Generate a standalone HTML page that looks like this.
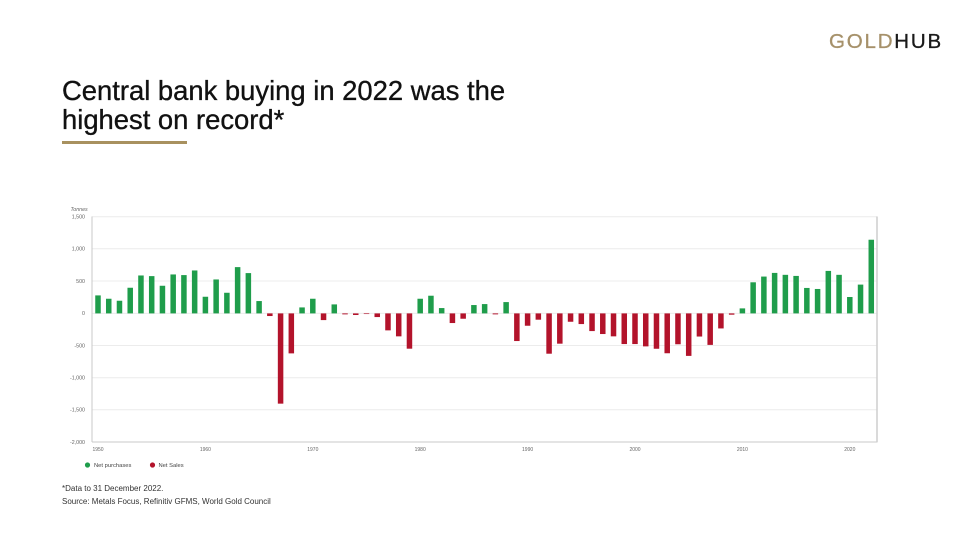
<!DOCTYPE html>
<html><head><meta charset="utf-8">
<style>
html,body{margin:0;padding:0;background:#fff;}
body{width:975px;height:537px;position:relative;overflow:hidden;font-family:"Liberation Sans",Arial,sans-serif;}
.logo{position:absolute;left:829px;top:30px;font-size:20.5px;letter-spacing:1.8px;line-height:24px;-webkit-text-stroke:0.3px currentColor;}
.logo .g{color:#a6916a;}
.logo .h{color:#1a1a1a;}
.title{position:absolute;left:62px;top:76px;font-size:27.4px;line-height:29px;color:#111;-webkit-text-stroke:0.35px #111;white-space:nowrap;}
.rule{position:absolute;left:62px;top:141px;width:125px;height:3px;background:#a8915f;}
.foot{position:absolute;left:62px;font-size:8px;color:#333;white-space:nowrap;}
</style></head>
<body>
<div class="logo"><span class="g">GOLD</span><span class="h">HUB</span></div>
<div class="title">Central bank buying in 2022 was the<br>highest on record*</div>
<div class="rule"></div>

<svg width="975" height="537" style="position:absolute;left:0;top:0" xmlns="http://www.w3.org/2000/svg">
  <g stroke="#ececec" stroke-width="1">
    <line x1="92" y1="216.7" x2="877" y2="216.7"/>
    <line x1="92" y1="248.8" x2="877" y2="248.8"/>
    <line x1="92" y1="281" x2="877" y2="281"/>
    <line x1="92" y1="313.4" x2="877" y2="313.4"/>
    <line x1="92" y1="345.5" x2="877" y2="345.5"/>
    <line x1="92" y1="377.7" x2="877" y2="377.7"/>
    <line x1="92" y1="409.8" x2="877" y2="409.8"/>
  </g>
  <line x1="92" y1="216.5" x2="92" y2="442" stroke="#c8c8c8" stroke-width="1"/>
  <line x1="92" y1="442" x2="877.5" y2="442" stroke="#c8c8c8" stroke-width="1"/>
  <line x1="877" y1="216.5" x2="877" y2="442" stroke="#d0d0d0" stroke-width="1.6"/>

  <g font-family="Liberation Sans, Arial, sans-serif" font-size="5.3" fill="#666" text-anchor="end">
    <text x="85" y="218.5">1,500</text>
    <text x="85" y="250.6">1,000</text>
    <text x="85" y="282.8">500</text>
    <text x="85" y="315.2">0</text>
    <text x="85" y="347.3">-500</text>
    <text x="85" y="379.5">-1,000</text>
    <text x="85" y="411.6">-1,500</text>
    <text x="85" y="443.8">-2,000</text>
  </g>
  <text x="70.5" y="211" font-family="Liberation Sans, Arial, sans-serif" font-size="5.3" font-style="italic" fill="#666">Tonnes</text>

  <g font-family="Liberation Sans, Arial, sans-serif" font-size="5" fill="#666" text-anchor="middle">
    <text x="98" y="451">1950</text>
    <text x="205.4" y="451">1960</text>
    <text x="312.8" y="451">1970</text>
    <text x="420.2" y="451">1980</text>
    <text x="527.6" y="451">1990</text>
    <text x="635" y="451">2000</text>
    <text x="742.4" y="451">2010</text>
    <text x="849.8" y="451">2020</text>
  </g>

  <g transform="translate(95.25,313.4) scale(1,-0.06428)">
    <g fill="#1f9d4b">
      <rect x="0" y="0" width="5.5" height="280"/>
      <rect x="10.74" y="0" width="5.5" height="228"/>
      <rect x="21.48" y="0" width="5.5" height="197"/>
      <rect x="32.22" y="0" width="5.5" height="399"/>
      <rect x="42.96" y="0" width="5.5" height="590"/>
      <rect x="53.70" y="0" width="5.5" height="580"/>
      <rect x="64.44" y="0" width="5.5" height="430"/>
      <rect x="75.18" y="0" width="5.5" height="606"/>
      <rect x="85.92" y="0" width="5.5" height="596"/>
      <rect x="96.66" y="0" width="5.5" height="668"/>
      <rect x="107.40" y="0" width="5.5" height="259"/>
      <rect x="118.14" y="0" width="5.5" height="528"/>
      <rect x="128.88" y="0" width="5.5" height="321"/>
      <rect x="139.62" y="0" width="5.5" height="720"/>
      <rect x="150.36" y="0" width="5.5" height="627"/>
      <rect x="161.10" y="0" width="5.5" height="192"/>
      <rect x="204.06" y="0" width="5.5" height="93"/>
      <rect x="214.80" y="0" width="5.5" height="228"/>
      <rect x="236.28" y="0" width="5.5" height="140"/>
      <rect x="322.20" y="0" width="5.5" height="228"/>
      <rect x="332.94" y="0" width="5.5" height="275"/>
      <rect x="343.68" y="0" width="5.5" height="83"/>
      <rect x="375.90" y="0" width="5.5" height="130"/>
      <rect x="386.64" y="0" width="5.5" height="145"/>
      <rect x="408.12" y="0" width="5.5" height="176"/>
      <rect x="644.40" y="0" width="5.5" height="78"/>
      <rect x="655.14" y="0" width="5.5" height="484"/>
      <rect x="665.88" y="0" width="5.5" height="573"/>
      <rect x="676.62" y="0" width="5.5" height="630"/>
      <rect x="687.36" y="0" width="5.5" height="600"/>
      <rect x="698.10" y="0" width="5.5" height="583"/>
      <rect x="708.84" y="0" width="5.5" height="396"/>
      <rect x="719.58" y="0" width="5.5" height="380"/>
      <rect x="730.32" y="0" width="5.5" height="661"/>
      <rect x="741.06" y="0" width="5.5" height="600"/>
      <rect x="751.80" y="0" width="5.5" height="255"/>
      <rect x="762.54" y="0" width="5.5" height="448"/>
      <rect x="773.28" y="0" width="5.5" height="1146"/>
    </g>
    <g fill="#b3132b">
      <rect x="171.84" y="-41" width="5.5" height="41"/>
      <rect x="182.58" y="-1404" width="5.5" height="1404"/>
      <rect x="193.32" y="-622" width="5.5" height="622"/>
      <rect x="225.54" y="-104" width="5.5" height="104"/>
      <rect x="247.02" y="-15" width="5.5" height="15"/>
      <rect x="257.76" y="-25" width="5.5" height="25"/>
      <rect x="268.50" y="-10" width="5.5" height="10"/>
      <rect x="279.24" y="-57" width="5.5" height="57"/>
      <rect x="289.98" y="-264" width="5.5" height="264"/>
      <rect x="300.72" y="-357" width="5.5" height="357"/>
      <rect x="311.46" y="-549" width="5.5" height="549"/>
      <rect x="354.42" y="-150" width="5.5" height="150"/>
      <rect x="365.16" y="-83" width="5.5" height="83"/>
      <rect x="397.38" y="-15" width="5.5" height="15"/>
      <rect x="418.86" y="-430" width="5.5" height="430"/>
      <rect x="429.60" y="-192" width="5.5" height="192"/>
      <rect x="440.34" y="-98" width="5.5" height="98"/>
      <rect x="451.08" y="-627" width="5.5" height="627"/>
      <rect x="461.82" y="-471" width="5.5" height="471"/>
      <rect x="472.56" y="-130" width="5.5" height="130"/>
      <rect x="483.30" y="-166" width="5.5" height="166"/>
      <rect x="494.04" y="-275" width="5.5" height="275"/>
      <rect x="504.78" y="-321" width="5.5" height="321"/>
      <rect x="515.52" y="-357" width="5.5" height="357"/>
      <rect x="526.26" y="-477" width="5.5" height="477"/>
      <rect x="537.00" y="-477" width="5.5" height="477"/>
      <rect x="547.74" y="-513" width="5.5" height="513"/>
      <rect x="558.48" y="-550" width="5.5" height="550"/>
      <rect x="569.22" y="-620" width="5.5" height="620"/>
      <rect x="579.96" y="-480" width="5.5" height="480"/>
      <rect x="590.70" y="-661" width="5.5" height="661"/>
      <rect x="601.44" y="-360" width="5.5" height="360"/>
      <rect x="612.18" y="-490" width="5.5" height="490"/>
      <rect x="622.92" y="-234" width="5.5" height="234"/>
      <rect x="633.66" y="-20" width="5.5" height="20"/>
    </g>
  </g>

  <circle cx="87.5" cy="465" r="2.6" fill="#1f9d4b"/>
  <text x="94" y="467" font-family="Liberation Sans, Arial, sans-serif" font-size="5.8" fill="#444">Net purchases</text>
  <circle cx="152.5" cy="465" r="2.6" fill="#b3132b"/>
  <text x="158.5" y="467" font-family="Liberation Sans, Arial, sans-serif" font-size="5.8" fill="#444">Net Sales</text>
</svg>

<div class="foot" style="top:484px;">*Data to 31 December 2022.</div>
<div class="foot" style="top:497px;">Source: Metals Focus, Refinitiv GFMS, World Gold Council</div>
</body></html>
